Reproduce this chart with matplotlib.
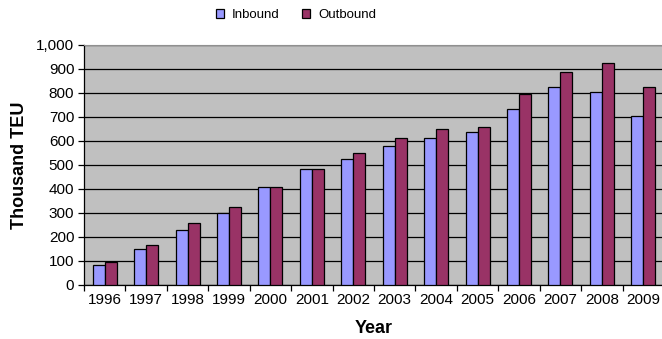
import numpy as np
import matplotlib.pyplot as plt
from matplotlib.ticker import FuncFormatter

plt.rcParams['font.family'] = ['Liberation Sans', 'DejaVu Sans']

# Container throughput, thousand TEU
years = ['1996', '1997', '1998', '1999', '2000', '2001', '2002',
         '2003', '2004', '2005', '2006', '2007', '2008', '2009']
inbound = [82, 148, 228, 301, 409, 485, 523, 579, 614, 637, 734, 824, 803, 703]
outbound = [97, 168, 258, 324, 409, 483, 549, 611, 651, 660, 795, 888, 926, 826]

fig = plt.figure(figsize=(6.62, 3.39), dpi=100)
# axes runs a touch past the right edge of the figure
ax = fig.add_axes([84 / 662, 1 - 285 / 339, 580 / 662, 240 / 339])
ax.set_facecolor('#C0C0C0')

x = np.arange(len(years))
w = 0.29
ax.bar(x - w / 2, inbound, w, color='#9999FF', edgecolor='black', linewidth=0.9,
       label='Inbound', zorder=3)
ax.bar(x + w / 2, outbound, w, color='#993366', edgecolor='black', linewidth=0.9,
       label='Outbound', zorder=3)

ax.set_xlim(-0.5, len(years) - 0.5)
ax.set_ylim(0, 1000)
ax.set_yticks(range(0, 1001, 100))
ax.yaxis.set_major_formatter(FuncFormatter(lambda v, p: f'{int(v):,}'))
ax.grid(axis='y', color='black', linewidth=0.9, zorder=1)

# year labels centred, tick marks between categories
ax.set_xticks(x)
ax.set_xticklabels(years)
ax.set_xticks(np.arange(-0.5, len(years), 1), minor=True)
ax.tick_params(axis='x', which='major', length=0, pad=6, labelsize=11)
ax.tick_params(axis='x', which='minor', length=4, width=0.9, direction='out')
ax.tick_params(axis='y', length=4, width=0.9, direction='out', pad=3, labelsize=11)

ax.spines['right'].set_visible(False)
ax.spines['top'].set_color('#909090')
ax.spines['left'].set_linewidth(0.9)
ax.spines['bottom'].set_linewidth(0.9)

ax.set_ylabel('Thousand TEU', fontsize=13, fontweight='bold', labelpad=6)
ax.set_xlabel('Year', fontsize=13, fontweight='bold', labelpad=9)

fig.legend(loc='center', bbox_to_anchor=(296 / 662, 1 - 15 / 339), ncol=2,
           frameon=False, fontsize=9.5, handlelength=0.6, handleheight=0.6,
           columnspacing=1.7, handletextpad=0.6)

fig.savefig('out.png', dpi=100)
